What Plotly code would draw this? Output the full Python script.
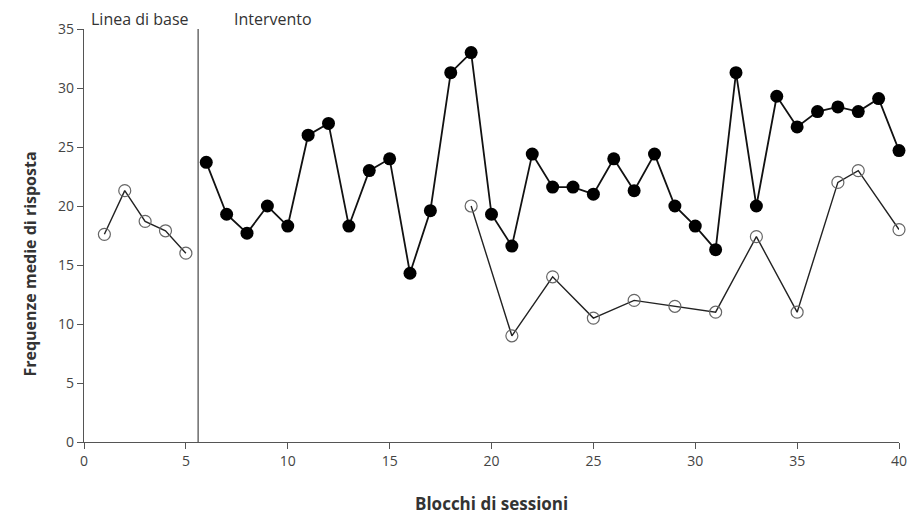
import plotly.graph_objects as go

# Baseline phase (open circles)
base_x = [1, 2, 3, 4, 5]
base_y = [17.6, 21.3, 18.7, 17.9, 16.0]

# Intervention phase, filled series
fill_x = list(range(6, 41))
fill_y = [23.7, 19.3, 17.7, 20.0, 18.3, 26.0, 27.0, 18.3, 23.0, 24.0,
          14.3, 19.6, 31.3, 33.0, 19.3, 16.6, 24.4, 21.6, 21.6, 21.0,
          24.0, 21.3, 24.4, 20.0, 18.3, 16.3, 31.3, 20.0, 29.3, 26.7,
          28.0, 28.4, 28.0, 29.1, 24.7]

# Intervention phase, open series
open_x = [19, 21, 23, 25, 27, 29, 31, 33, 35, 37, 38, 40]
open_y = [20.0, 9.0, 14.0, 10.5, 12.0, 11.5, 11.0, 17.4, 11.0, 22.0, 23.0, 18.0]

phase_change = 5.6
x_ticks = [0, 5, 10, 15, 20, 25, 30, 35, 40]
y_ticks = [0, 5, 10, 15, 20, 25, 30, 35]

FONT = "Open Sans"
AX = "#555555"

fig = go.Figure()

open_marker = dict(symbol="circle-open", size=12, color="#666666", line=dict(width=1.2, color="#666666"))
fill_marker = dict(symbol="circle", size=13, color="#000000")

fig.add_trace(go.Scatter(x=base_x, y=base_y, mode="lines+markers",
                         line=dict(color="#222222", width=1.4),
                         marker=open_marker, cliponaxis=False, showlegend=False))
fig.add_trace(go.Scatter(x=open_x, y=open_y, mode="lines+markers",
                         line=dict(color="#222222", width=1.4),
                         marker=open_marker, cliponaxis=False, showlegend=False))
fig.add_trace(go.Scatter(x=fill_x, y=fill_y, mode="lines+markers",
                         line=dict(color="#111111", width=1.8),
                         marker=fill_marker, cliponaxis=False, showlegend=False))

# Phase-change line
fig.add_shape(type="line", xref="x", yref="y", x0=phase_change, x1=phase_change,
              y0=0, y1=35, line=dict(color="#222222", width=1))

fig.add_annotation(x=2.75, y=1.0, xref="x", yref="paper", yanchor="bottom",
                   text="Linea di base", showarrow=False, yshift=-3,
                   font=dict(family=FONT, size=16, color="#333333"))
fig.add_annotation(x=7.25, y=1.0, xref="x", yref="paper", xanchor="left", yanchor="bottom",
                   text="Intervento", showarrow=False, yshift=-3,
                   font=dict(family=FONT, size=16, color="#333333"))

# Axis titles
fig.add_annotation(x=-0.082, y=0.43, xref="paper", yref="paper", textangle=-90,
                   text="<b>Frequenze medie di risposta</b>", showarrow=False,
                   font=dict(family=FONT, size=16, color="#333333"))
fig.add_annotation(x=0.5, y=-0.148, xref="paper", yref="paper", yanchor="middle",
                   text="<b>Blocchi di sessioni</b>", showarrow=False,
                   font=dict(family=FONT, size=17, color="#333333"))

fig.update_xaxes(range=[0, 40], tickvals=x_ticks, ticktext=[str(v) for v in x_ticks],
                 showgrid=False, zeroline=False, showline=True, linecolor=AX, linewidth=1.2,
                 ticks="outside", ticklen=6, tickcolor=AX, tickwidth=1,
                 tickfont=dict(family=FONT, size=14, color="#444444"))
fig.update_yaxes(range=[0, 35], tickvals=y_ticks, ticktext=[str(v) for v in y_ticks],
                 showgrid=False, zeroline=False, showline=True, linecolor=AX, linewidth=1.2,
                 ticks="outside", ticklen=6, tickcolor=AX, tickwidth=1,
                 tickfont=dict(family=FONT, size=14, color="#444444"))

fig.update_layout(width=919, height=517, plot_bgcolor="white", paper_bgcolor="white",
                  margin=dict(l=84, r=12, t=29, b=75))

fig.write_html("out.html")
